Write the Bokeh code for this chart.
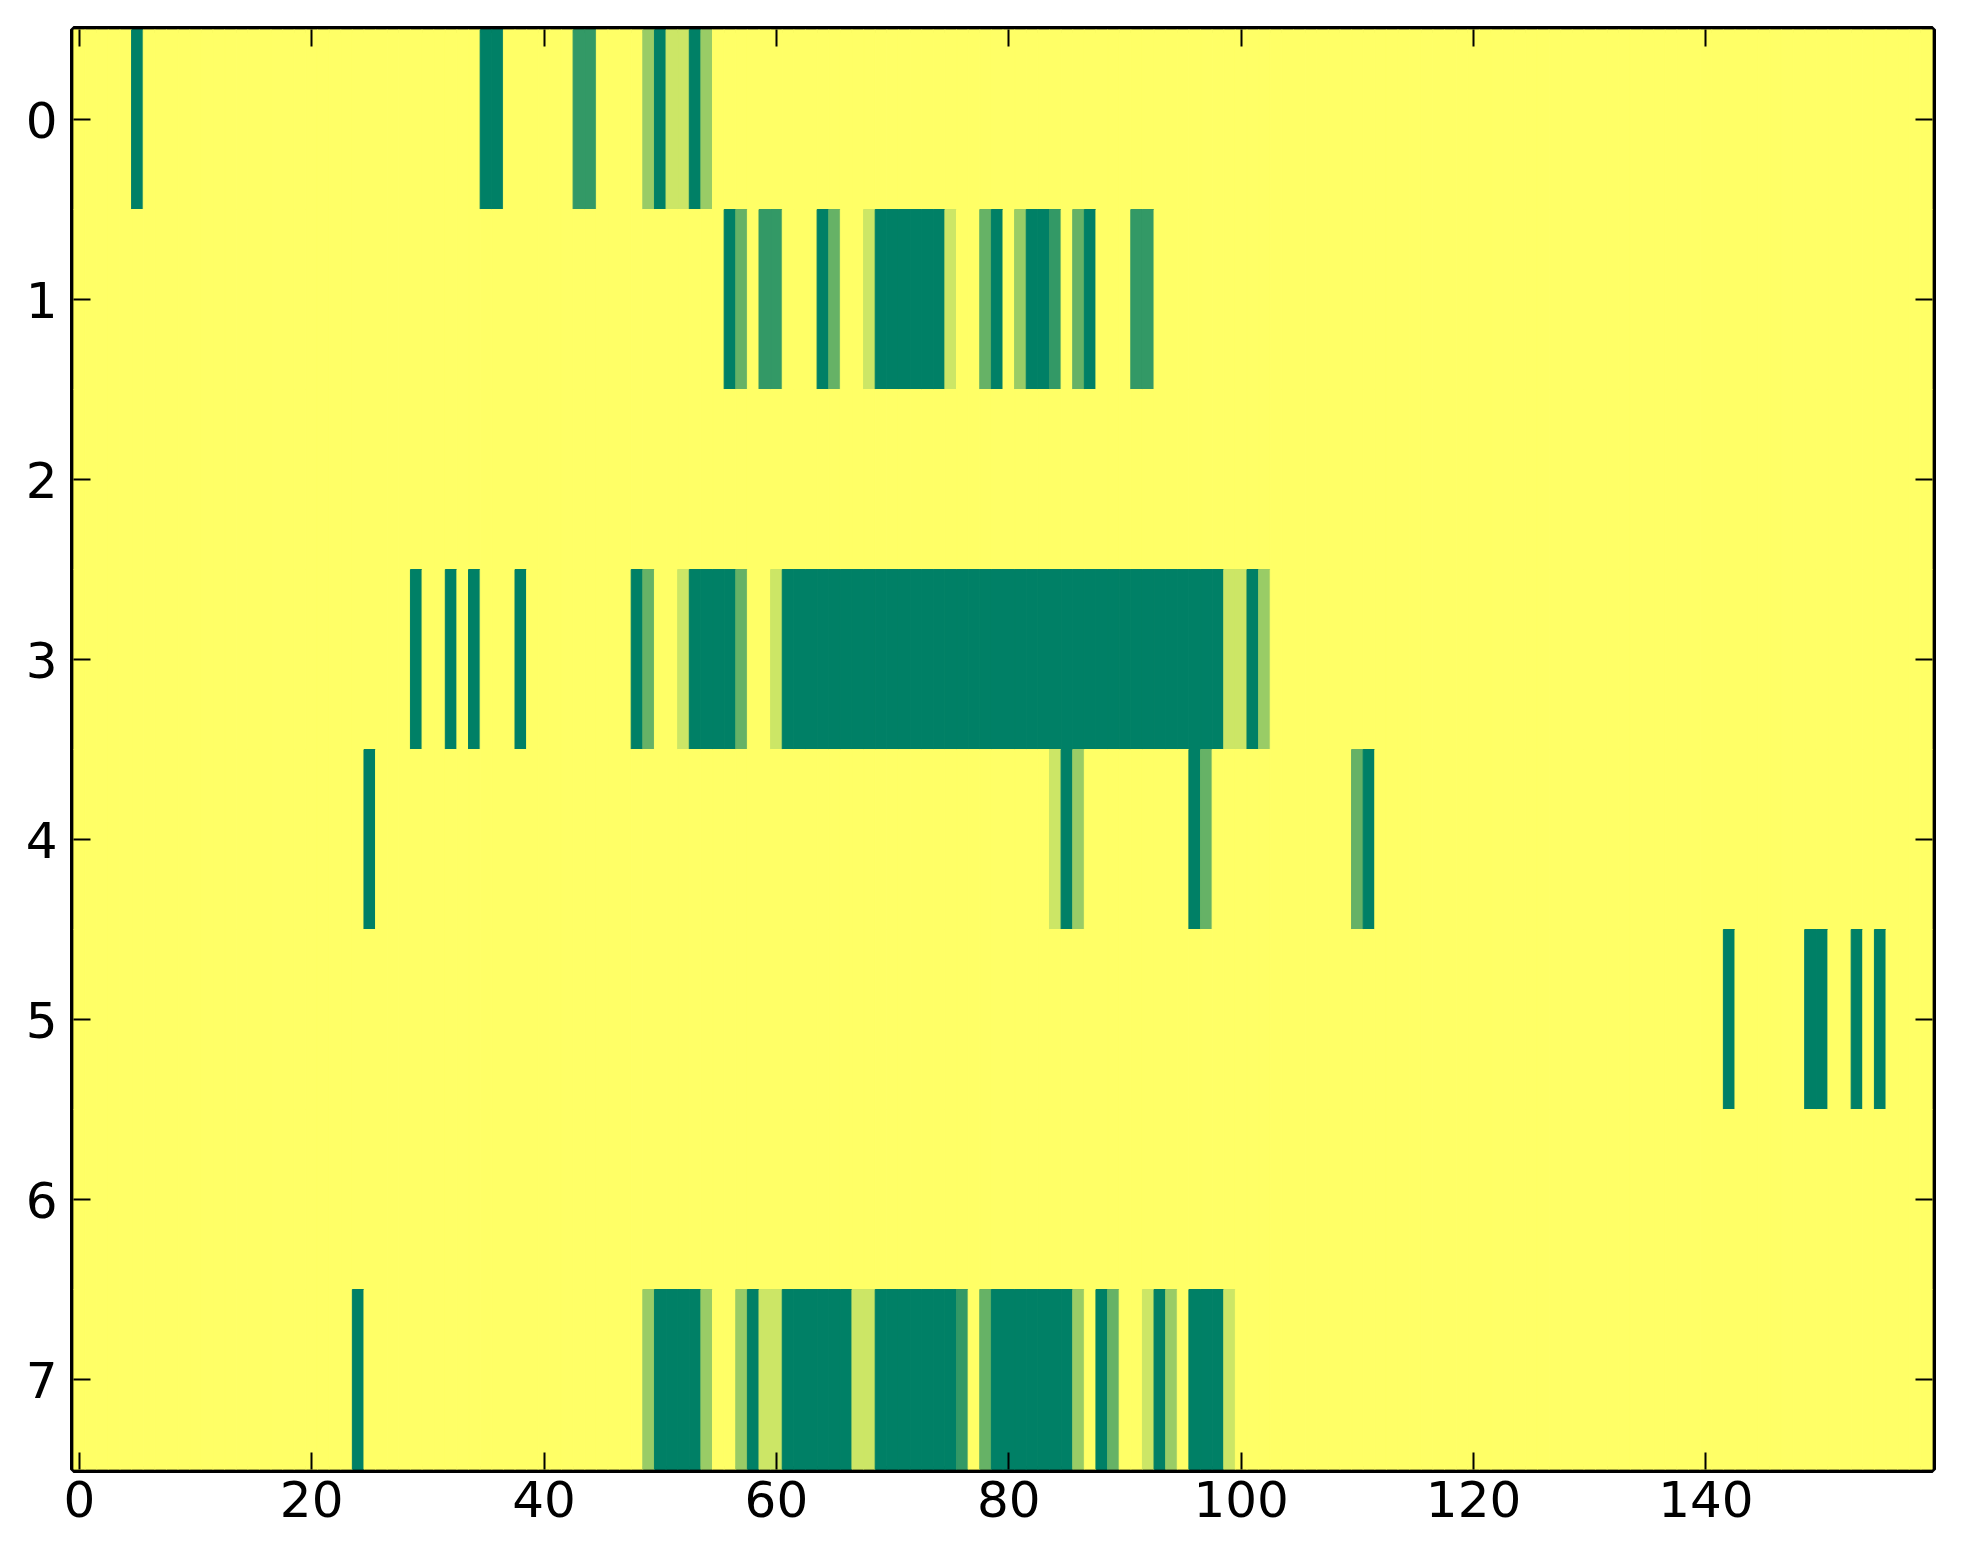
import numpy as np
from bokeh.plotting import figure
from bokeh.models import ColumnDataSource, LinearAxis, FixedTicker, Range1d
from bokeh.transform import linear_cmap
from bokeh.embed import file_html
from bokeh.resources import INLINE

n_cols = 160
n_rows = 8
v_min, v_max = 0, 5

# runs of cells: (first column, last column, value)
row0_runs = [(5, 5, 5), (35, 36, 5), (43, 44, 4), (49, 49, 2), (50, 50, 5),
             (51, 52, 1), (53, 53, 5), (54, 54, 2)]
row1_runs = [(56, 56, 5), (57, 57, 3), (59, 60, 4), (64, 64, 5), (65, 65, 3),
             (68, 68, 1), (69, 74, 5), (75, 75, 1), (78, 78, 3), (79, 79, 5),
             (81, 81, 2), (82, 83, 5), (84, 84, 4), (86, 86, 3), (87, 87, 5),
             (91, 92, 4)]
row2_runs = []
row3_runs = [(29, 29, 5), (32, 32, 5), (34, 34, 5), (38, 38, 5), (48, 48, 5),
             (49, 49, 3), (52, 52, 1), (53, 56, 5), (57, 57, 3), (60, 60, 1),
             (61, 98, 5), (99, 100, 1), (101, 101, 5), (102, 102, 2)]
row4_runs = [(25, 25, 5), (84, 84, 1), (85, 85, 5), (86, 86, 2), (96, 96, 5),
             (97, 97, 3), (110, 110, 3), (111, 111, 5)]
row5_runs = [(142, 142, 5), (149, 150, 5), (153, 153, 5), (155, 155, 5)]
row6_runs = []
row7_runs = [(24, 24, 5), (49, 49, 2), (50, 53, 5), (54, 54, 2), (57, 57, 2),
             (58, 58, 5), (59, 60, 1), (61, 66, 5), (67, 68, 1), (69, 75, 5),
             (76, 76, 4), (78, 78, 3), (79, 85, 5), (86, 86, 2), (88, 88, 5),
             (89, 89, 3), (92, 92, 1), (93, 93, 5), (94, 94, 2), (96, 98, 5),
             (99, 99, 1)]

x_ticks = [0, 20, 40, 60, 80, 100, 120, 140]
y_ticks = [0, 1, 2, 3, 4, 5, 6, 7]

rows = [row0_runs, row1_runs, row2_runs, row3_runs,
        row4_runs, row5_runs, row6_runs, row7_runs]
grid = np.zeros((n_rows, n_cols))
for r, runs in enumerate(rows):
    for a, b, v in runs:
        grid[r, a:b + 1] = v

cx, cy, cv = [], [], []
for r in range(n_rows):
    for c in range(n_cols):
        cx.append(c)
        cy.append(r)
        cv.append(grid[r, c])
source = ColumnDataSource(dict(x=cx, y=cy, v=cv))

# matplotlib "summer_r" colormap
palette = []
for i in range(256):
    t = 1.0 - i / 255.0
    r, g, b = t, 0.5 + 0.5 * t, 0.4
    palette.append("#%02x%02x%02x" % (round(r * 255), round(g * 255), round(b * 255)))

cmap = linear_cmap("v", palette, v_min, v_max)

p = figure(frame_width=1859, frame_height=1440,
           x_range=Range1d(-0.5, n_cols - 0.5), y_range=Range1d(n_rows - 0.5, -0.5),
           output_backend="svg", toolbar_location=None,
           min_border_left=73, min_border_top=29, min_border_right=20,
           min_border_bottom=60)
p.rect(x="x", y="y", width=1, height=1, source=source,
       fill_color=cmap, line_color=cmap, line_width=1)

p.add_layout(LinearAxis(), "above")
p.add_layout(LinearAxis(), "right")

p.grid.visible = False
p.outline_line_color = "black"
p.outline_line_width = 7
p.background_fill_color = "white"

for ax in p.xaxis:
    ax.ticker = FixedTicker(ticks=x_ticks)
for ax in p.yaxis:
    ax.ticker = FixedTicker(ticks=y_ticks)

for ax in p.axis:
    ax.axis_line_color = None
    ax.major_tick_in = 17
    ax.major_tick_out = 0
    ax.major_tick_line_width = 2
    ax.major_tick_line_color = "black"
    ax.minor_tick_line_color = None
    ax.major_label_text_font = "DejaVu Sans"
    ax.major_label_text_font_size = "50px"
    ax.major_label_text_color = "black"

p.below[0].major_label_standoff = 11
p.left[0].major_label_standoff = 16
for ax in (p.above[0], p.right[0]):
    ax.major_label_text_font_size = "1px"
    ax.major_label_text_color = None
    ax.major_label_standoff = 0

open("out.html", "w").write(file_html(p, INLINE))
